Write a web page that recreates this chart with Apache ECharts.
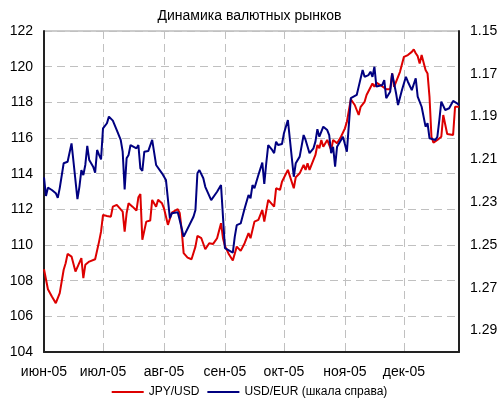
<!DOCTYPE html>
<html>
<head>
<meta charset="utf-8">
<script src="https://cdn.jsdelivr.net/npm/echarts@6/dist/echarts.min.js"></script>
<style>
html,body{margin:0;padding:0;background:#fff;}
#chart{width:499px;height:403px;}
</style>
</head>
<body>
<div id="chart"></div>
<script>
// Day offsets are counted from 1 June 2005
const monthLabels = ['июн-05','июл-05','авг-05','сен-05','окт-05','ноя-05','дек-05'];
const monthStartDays = [0, 30, 61, 92, 122, 153, 183];
const lastDay = 211;

const leftTicks = [104,106,108,110,112,114,116,118,120,122];
const rightTicks = [1.15,1.17,1.19,1.21,1.23,1.25,1.27,1.29];

const jpyDays = [0,2,4,6,8,10,11,12,14,16,19,20,21,23,26,28,29,30,32,34,35,36,37,40,41,42,43,45,47,48,49,50,52,54,55,57,58,60,61,63,64,65,68,69,70,71,73,75,77,78,80,82,84,86,88,90,91,92,94,96,98,100,102,104,105,107,109,111,112,114,117,118,120,121,124,127,128,130,132,133,134,135,138,139,140,141,142,144,146,147,149,151,153,154,156,158,160,161,163,164,167,168,169,171,172,174,176,177,178,181,183,185,187,188,189,190,191,192,194,195,196,197,198,200,202,203,205,208,209,210,211];
const jpyValues = [108.64,107.52,107.11,106.74,107.30,108.61,108.98,109.50,109.35,108.51,109.26,108.14,108.89,109.07,109.20,110.19,110.75,111.69,111.63,111.59,112.15,112.06,112.25,111.87,110.75,111.78,112.34,112.15,111.93,112.68,112.86,110.29,111.31,111.37,112.53,112.15,112.53,112.34,112.06,111.13,111.03,111.82,112.01,111.80,110.85,109.54,109.29,109.20,109.91,110.51,110.38,109.76,110.10,110.06,110.38,111.22,110.38,109.95,109.48,109.13,109.91,109.67,110.10,110.66,110.38,111.31,111.41,111.97,111.31,112.53,112.15,113.18,113.09,113.55,114.21,113.18,113.80,114.02,114.49,114.21,114.58,114.21,115.05,115.61,115.42,115.89,115.51,115.89,115.33,115.89,115.70,116.07,116.54,116.91,118.17,117.85,117.29,117.75,118.03,118.41,119.06,118.87,119.10,118.97,119.06,118.73,118.73,119.62,118.87,119.71,120.55,120.65,120.83,120.97,120.75,120.59,120.18,120.65,119.81,119.62,118.31,116.07,115.74,115.89,116.07,117.29,116.22,116.17,117.75,117.85,117.75];

const eurDays = [0,1,2,4,6,7,8,9,10,12,13,14,15,16,17,18,19,20,21,22,23,25,26,27,28,29,30,32,33,35,37,39,40,41,42,43,44,45,47,48,49,50,51,53,54,55,57,58,60,62,64,65,68,69,71,76,77,78,79,81,82,83,85,88,90,92,93,96,97,98,100,102,104,105,106,107,109,111,112,113,114,116,117,118,119,121,122,124,125,127,128,130,132,133,135,137,138,139,140,142,144,145,146,147,148,149,152,154,156,157,159,160,162,163,165,166,167,168,169,172,173,174,175,176,177,178,179,180,182,184,185,187,189,190,192,194,195,196,197,199,200,201,202,204,206,208,210,211];
const eurValues = [1.2184,1.2271,1.2232,1.2243,1.2258,1.2280,1.2234,1.2228,1.2118,1.2111,1.2107,1.2025,1.2111,1.2107,1.2286,1.2228,1.2150,1.2173,1.2126,1.2037,1.2103,1.2134,1.2162,1.2056,1.2079,1.2100,1.1955,1.1931,1.1900,1.1919,1.1963,1.2009,1.2064,1.2240,1.2095,1.2079,1.2033,1.2041,1.2048,1.2033,1.2142,1.2154,1.2064,1.2061,1.2056,1.2009,1.2126,1.2134,1.2165,1.2196,1.2375,1.2352,1.2347,1.2383,1.2461,1.2368,1.2336,1.2165,1.2150,1.2188,1.2228,1.2235,1.2290,1.2251,1.2220,1.2515,1.2523,1.2536,1.2461,1.2407,1.2399,1.2329,1.2266,1.2282,1.2220,1.2235,1.2173,1.2115,1.2215,1.2118,1.2033,1.2056,1.2071,1.2017,1.2033,1.2028,1.1978,1.1916,1.1924,1.2181,1.2118,1.2087,1.1986,1.2009,1.2071,1.2048,1.2017,1.1959,1.1994,1.1947,1.1963,1.1986,1.2071,1.2041,1.2134,1.2041,1.1994,1.2064,1.1814,1.1810,1.1799,1.1760,1.1682,1.1714,1.1706,1.1690,1.1714,1.1667,1.1760,1.1752,1.1729,1.1814,1.1822,1.1784,1.1698,1.1744,1.1791,1.1846,1.1776,1.1714,1.1737,1.1776,1.1721,1.1807,1.1854,1.1947,1.1931,1.2001,1.2001,1.2009,1.1994,1.1916,1.1830,1.1869,1.1861,1.1827,1.1838,1.1846];

const seriesNames = ['JPY/USD', 'USD/EUR (шкала справа)'];

const FONT = 'Liberation Sans, Arial, sans-serif';
const chart = echarts.init(document.getElementById('chart'), null, {renderer: 'canvas'});

const zip = (xs, ys) => xs.map((x, i) => [x, ys[i]]);

chart.setOption({
  animation: false,
  backgroundColor: '#ffffff',
  title: {
    text: 'Динамика валютных рынков',
    left: 'center',
    top: 4,
    textStyle: {fontFamily: FONT, fontSize: 14, fontWeight: 'normal', color: '#000'}
  },
  legend: {
    data: seriesNames.map(n => ({name: n, icon: 'rect'})),
    bottom: 0,
    left: 'center',
    itemWidth: 32,
    itemHeight: 2,
    itemGap: 8,
    textStyle: {fontFamily: FONT, fontSize: 12, color: '#000'}
  },
  grid: {
    left: 44, right: 40, top: 31, bottom: 51,
    show: true,
    borderColor: '#999',
    borderWidth: 1,
    containLabel: false,
    outerBoundsMode: 'none'
  },
  xAxis: {
    type: 'value',
    min: 0,
    max: lastDay,
    axisLine: {show: true, lineStyle: {color: '#222', width: 2}},
    axisTick: {show: false, customValues: monthStartDays},
    axisLabel: {
      customValues: monthStartDays,
      margin: 13,
      fontFamily: FONT, fontSize: 14, color: '#000',
      formatter: v => monthLabels[monthStartDays.indexOf(Math.round(v))] || ''
    },
    splitLine: {show: true, lineStyle: {color: '#c0c0c0', type: [8, 5], width: 1}}
  },
  yAxis: [
    {
      type: 'value',
      min: 104, max: 122, interval: 2,
      position: 'left',
      axisLine: {show: true, lineStyle: {color: '#222', width: 2}},
      axisTick: {show: false},
      axisLabel: {
        customValues: leftTicks,
        margin: 11, fontFamily: FONT, fontSize: 14, color: '#000'
      },
      splitLine: {show: true, lineStyle: {color: '#c0c0c0', type: [8, 5], width: 1}}
    },
    {
      type: 'value',
      min: 1.15, max: 1.30,
      inverse: true,
      position: 'right',
      axisLine: {show: true, lineStyle: {color: '#222', width: 2}},
      axisTick: {show: false},
      axisLabel: {
        customValues: rightTicks,
        margin: 11, fontFamily: FONT, fontSize: 14, color: '#000',
        formatter: v => Number(v).toFixed(2)
      },
      splitLine: {show: false}
    }
  ],
  series: [
    {
      name: seriesNames[0],
      type: 'line',
      yAxisIndex: 0,
      data: zip(jpyDays, jpyValues),
      symbol: 'none',
      lineStyle: {color: '#dd0000', width: 2},
      itemStyle: {color: '#dd0000'}
    },
    {
      name: seriesNames[1],
      type: 'line',
      yAxisIndex: 1,
      data: zip(eurDays, eurValues),
      symbol: 'none',
      lineStyle: {color: '#000080', width: 2},
      itemStyle: {color: '#000080'}
    }
  ]
});
</script>
</body>
</html>
